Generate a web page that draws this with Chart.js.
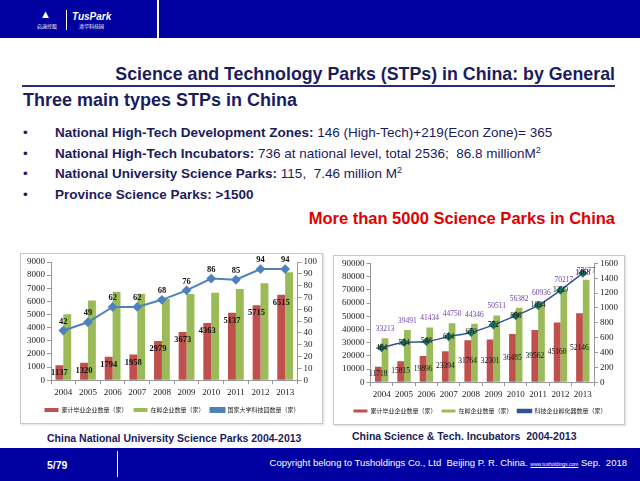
<!DOCTYPE html>
<html>
<head>
<meta charset="utf-8">
<script src="https://cdn.jsdelivr.net/npm/chart.js@4"></script>
<style>
  body { margin: 0; }
  #slide { position: relative; width: 640px; height: 481px; overflow: hidden; background: #fff; font-family: "Liberation Sans", Arial, sans-serif; }
  .abs { position: absolute; white-space: nowrap; }
  .bar { background: #0000a0; }
  .navy { color: #1c1c5c; }
  .box { position: absolute; border: 1px solid #c8c8c8; box-shadow: 1px 1px 2px #ddd; background: #fff; }
  sup { font-size: 9px; line-height: 0; vertical-align: 5px; font-weight: normal; }
</style>
</head>
<body>
<div id="slide">
  <!-- header -->
  <div class="abs bar" style="left:0;top:0;width:640px;height:38px;"></div>
  <div class="abs" style="left:157px;top:0;width:2px;height:38px;background:#fff;"></div>
  <div class="abs" style="left:40px;top:8px;color:#fff;font-size:11px;font-weight:bold;">&#9650;</div>
  <div class="abs" style="left:37px;top:22px;color:#fff;font-size:5px;font-family:'Noto Sans CJK SC';">启迪控股</div>
  <div class="abs" style="left:66px;top:10px;width:1px;height:20px;background:#fff;"></div>
  <div class="abs" style="left:72px;top:11px;color:#fff;font-size:10px;font-weight:bold;font-style:italic;">TusPark</div>
  <div class="abs" style="left:79px;top:22px;color:#fff;font-size:5px;font-family:'Noto Sans CJK SC';">清华科技园</div>

  <!-- titles -->
  <div class="abs navy" style="right:25px;top:64px;height:20px;line-height:20px;font-size:17.8px;font-weight:bold;">Science and Technology Parks (STPs) in China: by General</div>
  <div class="abs" style="left:22px;top:85px;width:593px;height:2px;background:#2a2a7a;"></div>
  <div class="abs navy" style="left:23px;top:90px;height:20px;line-height:20px;font-size:18px;font-weight:bold;">Three main types STPs in China</div>

  <!-- bullets -->
  <div class="abs navy" style="left:23px;top:124px;line-height:18px;font-size:13.5px;">
    <div style="position:absolute;left:0;top:0;">•</div>
    <div style="position:absolute;left:32px;top:0;"><b>National High-Tech Development Zones:</b> 146 (High-Tech)+219(Econ Zone)= 365</div>
    <div style="position:absolute;left:0;top:21px;">•</div>
    <div style="position:absolute;left:32px;top:21px;"><b>National High-Tech Incubators:</b> 736 at national level, total 2536;&nbsp; 86.8 millionM<sup>2</sup></div>
    <div style="position:absolute;left:0;top:41px;">•</div>
    <div style="position:absolute;left:32px;top:41px;"><b>National University Science Parks:</b> 115,&nbsp; 7.46 million M<sup>2</sup></div>
    <div style="position:absolute;left:0;top:62px;">•</div>
    <div style="position:absolute;left:32px;top:62px;"><b>Province Science Parks: &gt;1500</b></div>
  </div>
  <div class="abs" style="right:25px;top:208px;height:20px;line-height:20px;font-size:16.5px;font-weight:bold;color:#e00000;">More than 5000 Science Parks in China</div>

  <!-- charts -->
  <div class="box" style="left:20px;top:253px;width:301px;height:169px;">
    <canvas id="c1" width="301" height="169"></canvas>
  </div>
  <div class="box" style="left:333px;top:255px;width:290px;height:168px;">
    <canvas id="c2" width="290" height="168"></canvas>
  </div>
  <div class="abs navy" style="left:47px;top:431px;height:14px;line-height:14px;font-size:10.5px;font-weight:bold;">China National University Science Parks 2004-2013</div>
  <div class="abs navy" style="left:352px;top:429px;height:14px;line-height:14px;font-size:10.5px;font-weight:bold;">China Science &amp; Tech. Incubators&nbsp; 2004-2013</div>

  <!-- footer -->
  <div class="abs bar" style="left:0;top:448px;width:640px;height:33px;"></div>
  <div class="abs" style="left:117px;top:451px;width:1px;height:26px;background:#fff;"></div>
  <div class="abs" style="left:47px;top:458px;height:14px;line-height:14px;font-size:10.5px;font-weight:bold;color:#fff;">5/79</div>
  <div class="abs" style="right:13px;top:456px;height:14px;line-height:14px;font-size:9.5px;color:#fff;">Copyright belong to Tusholdings Co., Ltd&nbsp; Beijing P. R. China. <span style="font-size:5px;text-decoration:underline;">www.tusholdings.com</span> Sep.&nbsp; 2018</div>
</div>

<script>
// years
const years = ['2004', '2005', '2006', '2007', '2008', '2009', '2010', '2011', '2012', '2013'];

// chart 1 - university science parks
const uniGraduated = [1137, 1320, 1794, 1958, 2979, 3673, 4363, 5137, 5715, 6515];
const uniIncubating = [5020, 6070, 6730, 6580, 6180, 6560, 6660, 6940, 7390, 8220];
const uniParks = [42, 49, 62, 62, 68, 76, 86, 85, 94, 94];

// chart 2 - incubators
const incGraduated = [11718, 15815, 19896, 23394, 31764, 32301, 36485, 39562, 45160, 52146];
const incIncubating = [33213, 39491, 41434, 44750, 44346, 50511, 56382, 60936, 70217, 77677];
const incCount = [464, 534, 548, 614, 670, 772, 896, 1034, 1239, 1468];

const serif = 'Liberation Serif';
const cjk = 'Noto Sans CJK SC';

// draws the number labels (no datalabels plugin available)
const valueLabels = {
  id: 'valueLabels',
  afterDatasetsDraw(chart) {
    const ctx = chart.ctx;
    chart.data.datasets.forEach((ds, i) => {
      if (!ds.lbl) return;
      chart.getDatasetMeta(i).data.forEach((el, j) => {
        let y = el.y;
        if (ds.lbl.pos === 'end') y = el.y + 8;
        if (ds.lbl.pos === 'above') y = el.y - 9;
        if (ds.lbl.pos === 'center') y = (el.y + el.base) / 2;
        ctx.save();
        ctx.font = ds.lbl.font;
        ctx.fillStyle = ds.lbl.color;
        ctx.textAlign = 'center';
        ctx.textBaseline = 'middle';
        ctx.fillText(ds.data[j], el.x, y);
        ctx.restore();
      });
    });
  }
};

function axis(pos, max, step) {
  return {
    position: pos, min: 0, max: max,
    border: { color: '#999' },
    grid: { drawOnChartArea: false, tickLength: 4, color: '#999' },
    ticks: { stepSize: step, autoSkip: false, color: '#222', font: { family: serif, size: 9 }, padding: 2,
             callback: v => String(v) }
  };
}

const xAxis = {
  border: { color: '#999' }, grid: { drawOnChartArea: false, tickLength: 4, color: '#999' },
  ticks: { autoSkip: false, maxRotation: 0, minRotation: 0, color: '#222', font: { family: serif, size: 9 }, padding: 3 }
};

function legend(box, pad) {
  return {
    position: 'bottom',
    labels: { boxWidth: 14, boxHeight: box, padding: pad, color: '#222', font: { family: cjk, size: 6 },
              sort: (a, b) => a.datasetIndex - b.datasetIndex }
  };
}

new Chart(document.getElementById('c1'), {
  type: 'bar',
  data: {
    labels: years,
    datasets: [
      { type: 'bar', label: '累计毕业企业数量（家）', data: uniGraduated, backgroundColor: '#c0504d', yAxisID: 'y', order: 1,
        barPercentage: 1, categoryPercentage: 0.64,
        lbl: { pos: 'end', color: '#111', font: 'bold 8.5px ' + serif } },
      { type: 'bar', label: '在孵企业数量（家）', data: uniIncubating, backgroundColor: '#9bbb59', yAxisID: 'y', order: 1,
        barPercentage: 1, categoryPercentage: 0.64 },
      { type: 'line', label: '国家大学科技园数量（家）', data: uniParks, borderColor: '#4f81bd', backgroundColor: '#4f81bd',
        borderWidth: 2, pointStyle: 'rectRot', pointRadius: 3.5, yAxisID: 'y1', order: 0,
        lbl: { pos: 'above', color: '#111', font: 'bold 8.5px ' + serif } }
    ]
  },
  options: {
    responsive: false,
    animation: false,
    layout: { padding: { left: 4, right: 3, top: 8, bottom: 0 } },
    scales: { x: xAxis, y: axis('left', 9000, 1000), y1: axis('right', 100, 10) },
    plugins: { legend: legend(4, 6), tooltip: { enabled: false } }
  },
  plugins: [valueLabels]
});

new Chart(document.getElementById('c2'), {
  type: 'bar',
  data: {
    labels: years,
    datasets: [
      { type: 'bar', label: '累计毕业企业数量（家）', data: incGraduated, backgroundColor: '#c0504d', yAxisID: 'y', order: 1,
        barPercentage: 1, categoryPercentage: 0.6,
        lbl: { pos: 'center', color: '#111', font: '7.5px ' + serif } },
      { type: 'bar', label: '在孵企业数量（家）', data: incIncubating, backgroundColor: '#9bbb59', yAxisID: 'y', order: 1,
        barPercentage: 1, categoryPercentage: 0.6,
        lbl: { pos: 'above', color: '#7040a8', font: '7.5px ' + serif } },
      { type: 'line', label: '科技企业孵化器数量（家）', data: incCount, borderColor: '#2f5597', backgroundColor: '#2f5597',
        borderWidth: 1.5, pointStyle: 'rectRot', pointRadius: 3.5, pointBackgroundColor: '#1f7060', pointBorderColor: '#1f7060',
        yAxisID: 'y1', order: 0, cubicInterpolationMode: 'monotone',
        lbl: { pos: 'point', color: '#111', font: '7.5px ' + serif } }
    ]
  },
  options: {
    responsive: false,
    animation: false,
    layout: { padding: { left: 6, right: 4, top: 6, bottom: 0 } },
    scales: { x: xAxis, y: axis('left', 90000, 10000), y1: axis('right', 1600, 200) },
    plugins: { legend: legend(3, 5), tooltip: { enabled: false } }
  },
  plugins: [valueLabels]
});
</script>
</body>
</html>
